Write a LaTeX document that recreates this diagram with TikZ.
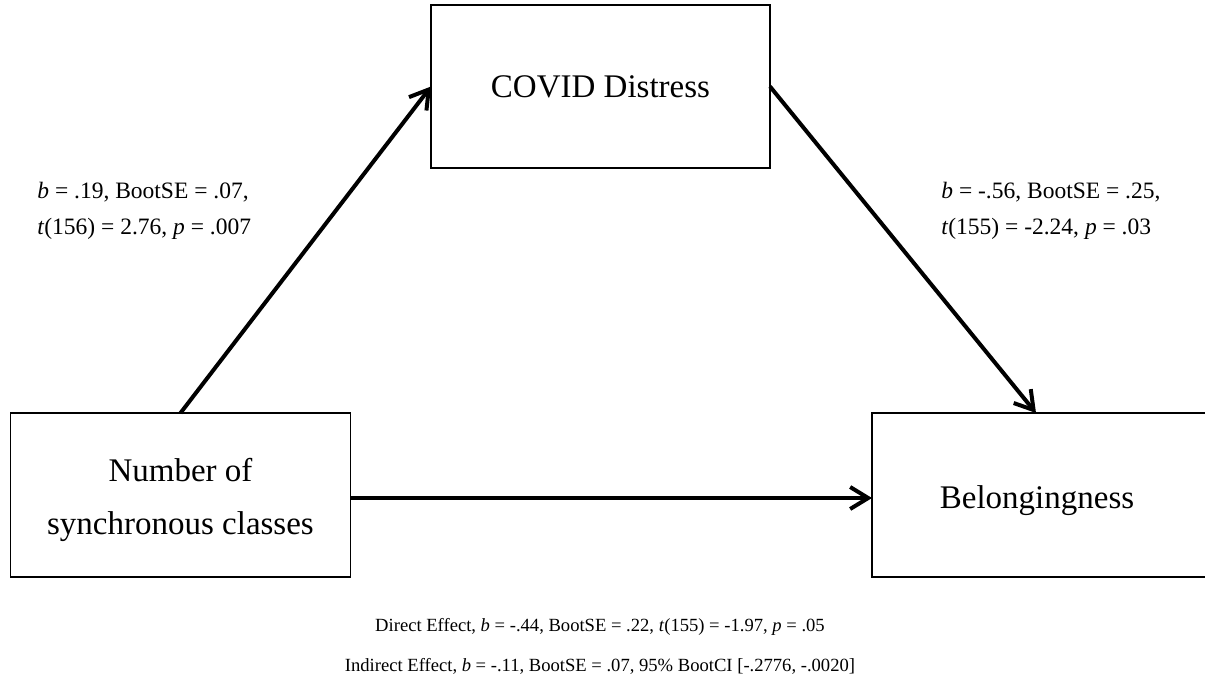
\documentclass[tikz,border=0pt]{standalone}
\usepackage{fontspec}
\setmainfont{Liberation Serif}
\usepackage{tikz}
\usetikzlibrary{positioning,arrows.meta}

\begin{document}
\begin{tikzpicture}[x=0.5pt, y=-0.5pt, >={Straight Barb[length=9pt,width=11pt]},
  box/.style={draw, rectangle, line width=0.75pt, outer sep=0pt, align=center, font=\fontsize{16.5}{26.5}\selectfont},
  stat/.style={inner sep=0pt, font=\fontsize{11.75}{18}\selectfont},
  path/.style={->, line width=2pt}]
\useasboundingbox (0,0) rectangle (1205,692);

\node[box, minimum width=170pt, minimum height=82pt] (num) at (180.5,495) {\rule{0pt}{16.3pt}Number of\\synchronous classes};
\node[box, minimum width=169.5pt, minimum height=81.5pt] (cov) at (600.5,86.5) {COVID Distress};
\node[box, minimum width=169pt, minimum height=82pt] (bel) at (1041,495) {\rule{0pt}{17.3pt}\hspace*{-4pt}Belongingness};

\node[stat, align=left, anchor=west] (a) at (37,211) {\textit{b} = .19, BootSE = .07,\\\textit{t}(156) = 2.76, \textit{p} = .007};
\node[stat, align=left, anchor=west] (c) at (941,211) {\textit{b} = -.56, BootSE = .25,\\\textit{t}(155) = -2.24, \textit{p} = .03};
\node[stat, align=center, font=\fontsize{9.3}{20}\selectfont] (eff) at (600,646)
  {Direct Effect, \textit{b} = -.44, BootSE = .22, \textit{t}(155) = -1.97, \textit{p} = .05\\
   Indirect Effect, \textit{b} = -.11, BootSE = .07, 95\% BootCI [-.2776, -.0020]};

\draw[path] (num.north) -- (cov.west);
\draw[path] (cov.east) -- ([xshift=-2.5pt]bel.north);
\draw[path] ([yshift=-1.5pt]num.east) -- ([yshift=-1.5pt]bel.west);
\end{tikzpicture}
\end{document}
